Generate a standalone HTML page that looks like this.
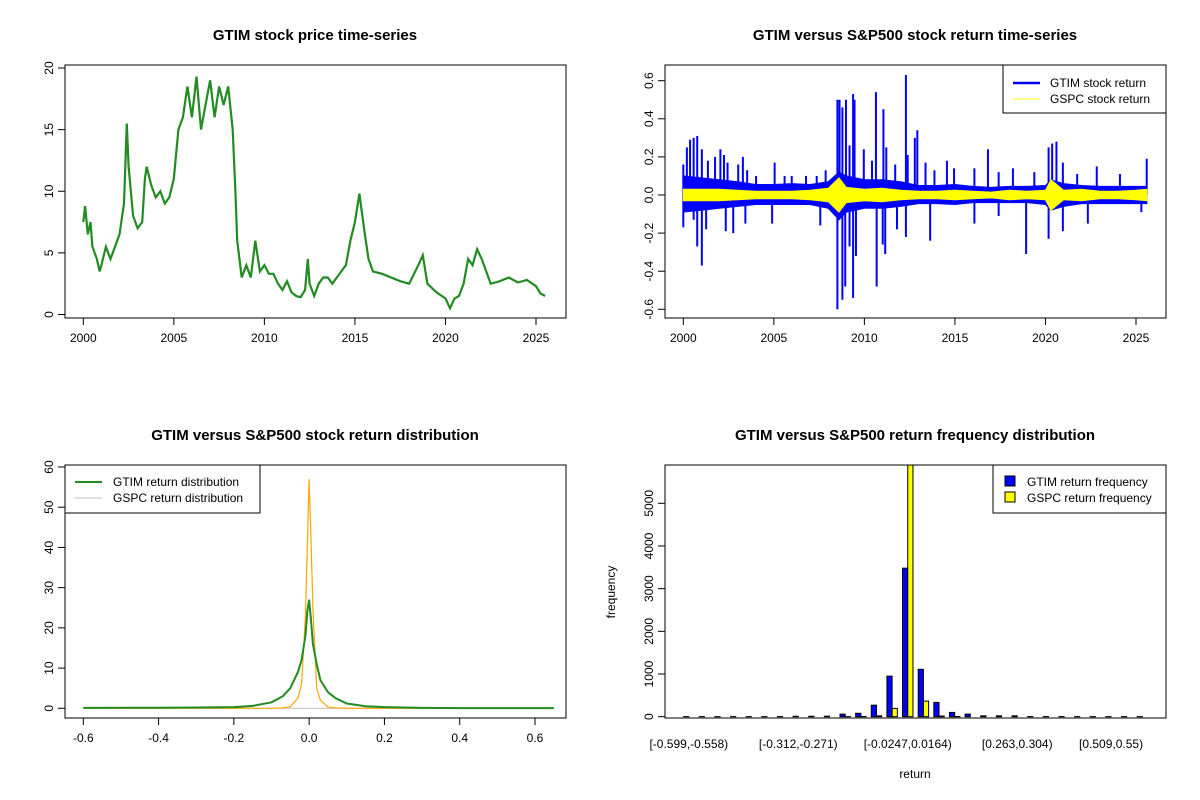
<!DOCTYPE html>
<html><head><meta charset="utf-8"><style>
body{margin:0;background:#fff;}
svg{display:block;font-family:"Liberation Sans",Arial,sans-serif;}
</style></head><body>
<svg id="s" width="1200" height="800" xmlns="http://www.w3.org/2000/svg"></svg>
<script>
// ---- data ----
const priceYears=[2000,2000.1,2000.25,2000.4,2000.5,2000.75,2000.9,2001,2001.25,2001.5,2001.75,2002,2002.25,2002.4,2002.5,2002.75,2003,2003.25,2003.4,2003.5,2003.75,2004,2004.25,2004.5,2004.75,2005,2005.25,2005.5,2005.75,2006,2006.25,2006.5,2006.75,2007,2007.25,2007.5,2007.75,2008,2008.25,2008.4,2008.5,2008.75,2009,2009.25,2009.5,2009.75,2010,2010.25,2010.5,2010.75,2011,2011.25,2011.5,2011.75,2012,2012.25,2012.4,2012.5,2012.75,2013,2013.25,2013.5,2013.75,2014,2014.25,2014.5,2014.75,2015,2015.25,2015.5,2015.75,2016,2016.5,2017,2017.5,2018,2018.5,2018.75,2019,2019.5,2020,2020.25,2020.5,2020.75,2021,2021.25,2021.5,2021.75,2022,2022.25,2022.5,2022.75,2023,2023.5,2024,2024.5,2025,2025.25,2025.5];
const priceValues=[7.5,8.8,6.5,7.5,5.5,4.5,3.5,4.0,5.5,4.5,5.5,6.5,9,15.5,12,8,7,7.5,11,12,10.5,9.5,10,9,9.5,11,15,16,18.5,16,19.3,15,17,19,16,18.5,17,18.5,15,10,6,3,4,3,6,3.5,4,3.3,3.3,2.5,2,2.7,1.8,1.5,1.4,2,4.5,2.5,1.5,2.5,3,3,2.5,3,3.5,4,6,7.5,9.8,7,4.5,3.5,3.3,3,2.7,2.5,4,4.8,2.5,1.8,1.3,0.5,1.3,1.5,2.5,4.5,4,5.3,4.5,3.5,2.5,2.6,2.7,3,2.6,2.8,2.3,1.7,1.5];

const bandYears=[2000,2001,2002,2003,2004,2005,2006,2007,2008,2008.6,2009,2010,2011,2012,2013,2014,2015,2016,2017,2018,2019,2020,2020.3,2021,2022,2023,2024,2025,2025.6];
const gtimBandHi=[0.1,0.09,0.08,0.07,0.055,0.055,0.06,0.055,0.07,0.12,0.1,0.08,0.08,0.07,0.05,0.05,0.055,0.045,0.04,0.045,0.045,0.05,0.08,0.06,0.05,0.045,0.045,0.045,0.045];
const gtimBandLo=[-0.09,-0.08,-0.07,-0.06,-0.05,-0.05,-0.05,-0.05,-0.07,-0.13,-0.09,-0.07,-0.07,-0.06,-0.045,-0.045,-0.05,-0.04,-0.04,-0.04,-0.04,-0.05,-0.08,-0.06,-0.045,-0.045,-0.045,-0.045,-0.045];
const gspcBand=[0.03,0.03,0.03,0.025,0.02,0.02,0.02,0.025,0.035,0.09,0.04,0.03,0.035,0.025,0.02,0.02,0.025,0.02,0.015,0.025,0.02,0.025,0.08,0.025,0.03,0.02,0.02,0.025,0.03];
const spikePx=[176,186,195,205,215,228,245,265,280,290,300,330,343,355,380,432,460,480,520,550,575,608,614,622,632,642,652,656,682,705,716,737,745,770,800,805,825,832,855,880,915,935,992,1030,1060,1100,1160,1200,1210,1222,1240,1280,1335,1400,1475,176,205,215,228,240,295,316,350,425,560,608,622,630,642,652,660,718,735,742,775,800,868,992,1060,1137,1200,1240,1310,1460];
const spikeValues=[0.16,0.25,0.29,0.3,0.31,0.24,0.18,0.2,0.24,0.21,0.17,0.16,0.2,0.13,0.1,0.17,0.1,0.1,0.1,0.1,0.13,0.5,0.5,0.46,0.5,0.26,0.53,0.5,0.24,0.18,0.54,0.45,0.25,0.16,0.63,0.21,0.3,0.34,0.17,0.13,0.18,0.14,0.14,0.24,0.12,0.14,0.12,0.25,0.27,0.28,0.17,0.11,0.15,0.11,0.19,-0.17,-0.13,-0.27,-0.37,-0.18,-0.19,-0.2,-0.15,-0.15,-0.16,-0.6,-0.55,-0.48,-0.27,-0.54,-0.32,-0.48,-0.26,-0.31,-0.18,-0.22,-0.24,-0.15,-0.11,-0.31,-0.23,-0.19,-0.15,-0.09];

const densX=[-0.6,-0.4,-0.3,-0.2,-0.15,-0.1,-0.07,-0.05,-0.03,-0.02,-0.01,-0.005,0,0.005,0.01,0.02,0.03,0.05,0.07,0.1,0.15,0.2,0.3,0.4,0.65];
const gtimDens=[0.1,0.15,0.2,0.3,0.6,1.5,3,5,9,12,18,24,27,22,16,11,7,4,2.5,1.2,0.5,0.3,0.1,0.05,0.05];
const gspcDens=[0,0,0,0,0,0,0.1,0.4,2.5,6,23,40,57,42,25,5,2,0.3,0.1,0,0,0,0,0,0];

const binLabels=["[-0.599,-0.558)","[-0.312,-0.271)","[-0.0247,0.0164)","[0.263,0.304)","[0.509,0.55)"];
const binLabelIdx=[0,7,14,21,27];
const gtimFreq=[2,2,2,2,2,2,3,10,10,12,60,80,270,950,3480,1110,335,100,60,20,20,20,4,3,3,2,2,2,2,2];
const gspcFreq=[0,0,0,0,0,0,0,0,0,0,2,5,20,195,6100,365,15,5,0,0,0,0,0,0,0,0,0,0,0,0];

// ---- drawing helpers ----
const NS="http://www.w3.org/2000/svg";
const svg=document.getElementById('s');
function el(tag,attrs,parent,text){const e=document.createElementNS(NS,tag);for(const k in attrs)e.setAttribute(k,attrs[k]);if(text!==undefined)e.textContent=text;(parent||svg).appendChild(e);return e;}
function lin(d0,d1,r0,r1){return v=>r0+(v-d0)*(r1-r0)/(d1-d0);}
function title(x,y,t){const e=el('text',{x:x,y:y,'text-anchor':'middle','font-size':15,'font-weight':'bold'},svg,t);

}
function box(x0,y0,x1,y1){const e=el('rect',{x:x0,y:y0,width:x1-x0,height:y1-y0,fill:'none',stroke:'#000','stroke-width':1});

}
function xTicks(vals,labels,sx,yb){const g=el('g',{});


el('line',{x1:sx(vals[0]),x2:sx(vals[vals.length-1]),y1:yb,y2:yb,stroke:'#000'},g);
vals.forEach((v,i)=>{el('line',{x1:sx(v),x2:sx(v),y1:yb,y2:yb+7,stroke:'#000'},g);
const t=el('text',{x:sx(v),y:yb+24,'text-anchor':'middle','font-size':12},g,labels[i]);

});}
function yTicks(vals,labels,sy,xl){const g=el('g',{});


el('line',{x1:xl,x2:xl,y1:sy(vals[0]),y2:sy(vals[vals.length-1]),stroke:'#000'},g);
vals.forEach((v,i)=>{el('line',{x1:xl-7,x2:xl,y1:sy(v),y2:sy(v),stroke:'#000'},g);
const t=el('text',{x:xl-12,y:sy(v),'text-anchor':'middle','font-size':12,transform:`rotate(-90 ${xl-12} ${sy(v)})`},g,labels[i]);

});}
function clip(id,x0,y0,x1,y1){const c=el('clipPath',{id:id});el('rect',{x:x0,y:y0,width:x1-x0,height:y1-y0},c);}

// ---- Panel 1: price ----
title(315,40,'GTIM stock price time-series');
{const sx=lin(2000,2025,83.3,536),sy=lin(0,20,314.5,68);
const pts=priceYears.map((y,i)=>sx(y).toFixed(1)+','+sy(priceValues[i]).toFixed(1)).join(' ');
const p=el('polyline',{points:pts,fill:'none',stroke:'#228B22','stroke-width':2.2,'stroke-linejoin':'miter'});


box(65,65,566,318);
const yrs=[2000,2005,2010,2015,2020,2025];xTicks(yrs,yrs.map(String),sx,318);
const yv=[0,5,10,15,20];yTicks(yv,yv.map(String),sy,65);}

// ---- Panel 2: returns ----
title(915,40,'GTIM versus S&P500 stock return time-series');
{const sx=lin(2000,2025,683.3,1136),sy=lin(-0.6,0.6,309.3,80.7);
clip('c2',665,65,1166,318);
const g=el('g',{'clip-path':'url(#c2)'});


const hi=bandYears.map((y,i)=>sx(y).toFixed(1)+','+sy(gtimBandHi[i]).toFixed(1));
const lo=bandYears.map((y,i)=>sx(y).toFixed(1)+','+sy(gtimBandLo[i]).toFixed(1)).reverse();
const b=el('polygon',{points:hi.concat(lo).join(' '),fill:'#0000ff',stroke:'#0000ff','stroke-width':1},g);


spikePx.forEach((zx,i)=>{const yr=2000+(zx-176)/50.76;
const l=el('line',{x1:sx(yr),x2:sx(yr),y1:sy(0),y2:sy(spikeValues[i]),stroke:'#0000ff','stroke-width':2},g);

});
const gh=bandYears.map((y,i)=>sx(y).toFixed(1)+','+sy(gspcBand[i]).toFixed(1));
const gl=bandYears.map((y,i)=>sx(y).toFixed(1)+','+sy(-gspcBand[i]).toFixed(1)).reverse();
const yb=el('polygon',{points:gh.concat(gl).join(' '),fill:'#ffff00',stroke:'#ffff00','stroke-width':1},g);


box(665,65,1166,318);
const yrs=[2000,2005,2010,2015,2020,2025];xTicks(yrs,yrs.map(String),sx,318);
const yv=[-0.6,-0.4,-0.2,0,0.2,0.4,0.6];yTicks(yv,yv.map(v=>v.toFixed(1)),sy,665);
const lg=el('g',{});


el('rect',{x:1003,y:65,width:163,height:48,fill:'#fff',stroke:'#000'},lg);
el('line',{x1:1013,x2:1040,y1:83,y2:83,stroke:'#0000ff','stroke-width':2.5},lg);
el('line',{x1:1013,x2:1040,y1:99,y2:99,stroke:'#ffff00','stroke-width':1},lg);
el('text',{x:1050,y:87,'font-size':12},lg,'GTIM stock return');
el('text',{x:1050,y:103,'font-size':12},lg,'GSPC stock return');}

// ---- Panel 3: density ----
title(315,440,'GTIM versus S&P500 stock return distribution');
{const sx=lin(-0.6,0.6,83.3,535),sy=lin(0,60,708.3,467);
el('line',{x1:sx(-0.6),x2:sx(0.65),y1:sy(0),y2:sy(0),stroke:'#bebebe'});
const p1=el('polyline',{points:densX.map((x,i)=>sx(x).toFixed(1)+','+sy(gspcDens[i]).toFixed(1)).join(' '),fill:'none',stroke:'#FFA500','stroke-width':1.2});


const p2=el('polyline',{points:densX.map((x,i)=>sx(x).toFixed(1)+','+sy(gtimDens[i]).toFixed(1)).join(' '),fill:'none',stroke:'#228B22','stroke-width':2});


box(65,465,566,718);
const xv=[-0.6,-0.4,-0.2,0,0.2,0.4,0.6];xTicks(xv,xv.map(v=>v===0?'0.0':String(v)),sx,718);
const yv=[0,10,20,30,40,50,60];yTicks(yv,yv.map(String),sy,65);
const lg=el('g',{});


el('rect',{x:65,y:465,width:195,height:48,fill:'#fff',stroke:'#000'},lg);
el('line',{x1:75,x2:102,y1:482,y2:482,stroke:'#228B22','stroke-width':2},lg);
el('line',{x1:75,x2:102,y1:498,y2:498,stroke:'#bebebe','stroke-width':1},lg);
el('text',{x:113,y:486,'font-size':12},lg,'GTIM return distribution');
el('text',{x:113,y:502,'font-size':12},lg,'GSPC return distribution');}

// ---- Panel 4: histogram ----
title(915,440,'GTIM versus S&P500 return frequency distribution');
{const sy=lin(0,5000,716.7,503.3);const u=5.213,x0=683.6;
clip('c4',665,465,1166,718);
const g=el('g',{'clip-path':'url(#c4)'});


gtimFreq.forEach((v,i)=>{const x=x0+i*3*u;
const r=el('rect',{x:x,y:sy(v),width:u,height:sy(0)-sy(v),fill:'#0000ff',stroke:'#000','stroke-width':1},g);


const r2=el('rect',{x:x+u,y:sy(gspcFreq[i]),width:u,height:sy(0)-sy(gspcFreq[i]),fill:'#ffff00',stroke:'#000','stroke-width':1},g);

});
box(665,465,1166,718);
binLabelIdx.forEach((bi,k)=>{const t=el('text',{x:x0+bi*3*u+u,y:748,'text-anchor':'middle','font-size':12},svg,binLabels[k]);

});
const yv=[0,1000,2000,3000,4000,5000];yTicks(yv,yv.map(String),sy,665);
const xl=el('text',{x:915,y:778,'text-anchor':'middle','font-size':12},svg,'return');


const yl=el('text',{x:615,y:592,'text-anchor':'middle','font-size':12,transform:'rotate(-90 615 592)'},svg,'frequency');


const lg=el('g',{});


el('rect',{x:993,y:465,width:173,height:48,fill:'#fff',stroke:'#000'},lg);
el('rect',{x:1005,y:476,width:10,height:10,fill:'#0000ff',stroke:'#000'},lg);
el('rect',{x:1005,y:492,width:10,height:10,fill:'#ffff00',stroke:'#000'},lg);
el('text',{x:1027,y:486,'font-size':12},lg,'GTIM return frequency');
el('text',{x:1027,y:502,'font-size':12},lg,'GSPC return frequency');}
</script>
</body></html>
